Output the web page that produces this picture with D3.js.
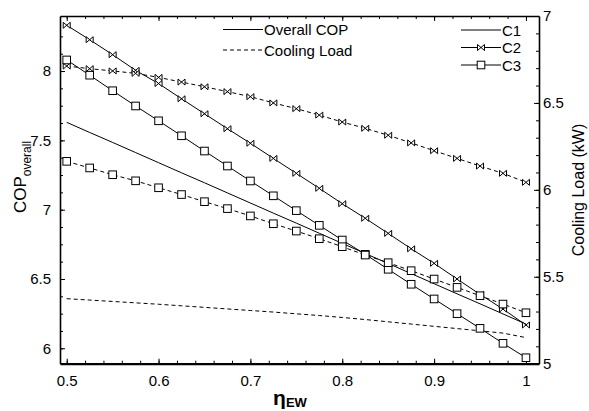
<!DOCTYPE html>
<html lang="en">
<head>
<meta charset="UTF-8">
<title>COP overall vs eta EW</title>
<script src="https://cdn.jsdelivr.net/npm/d3@7/dist/d3.min.js"></script>
<style>
    body { margin: 0; background: #fff; }
    svg { font-family: "Liberation Sans", Arial, sans-serif; }
    .axis text { font-size: 15px; fill: #000; }
    .axis path, .axis line { stroke: #000; }
    .legend text { font-size: 15px; }
</style>
</head>
<body>
<div id="chart"></div>
<script>
    // efficiency values (x)
    const eta = [0.5, 0.525, 0.55, 0.575, 0.6, 0.625, 0.65, 0.675, 0.7, 0.725, 0.75,
                 0.775, 0.8, 0.825, 0.85, 0.875, 0.9, 0.925, 0.95, 0.975, 1.0];

    // overall COP (left axis)
    const copC1 = [7.630, 7.557, 7.485, 7.412, 7.339, 7.266, 7.194, 7.121, 7.048, 6.975, 6.903,
                   6.830, 6.757, 6.684, 6.612, 6.539, 6.466, 6.393, 6.321, 6.248, 6.175];
    const copC2 = [8.330, 8.226, 8.118, 8.005, 7.910, 7.800, 7.692, 7.584, 7.479, 7.370, 7.262,
                   7.154, 7.043, 6.938, 6.829, 6.718, 6.613, 6.500, 6.389, 6.283, 6.168];
    const copC3 = [8.080, 7.970, 7.858, 7.748, 7.641, 7.533, 7.423, 7.315, 7.207, 7.100, 6.993,
                   6.887, 6.781, 6.678, 6.570, 6.462, 6.356, 6.250, 6.144, 6.036, 5.932];

    // cooling load in kW (right axis)
    const loadC1 = [5.374, 5.366, 5.358, 5.350, 5.342, 5.333, 5.324, 5.315, 5.306, 5.297, 5.287,
                    5.277, 5.266, 5.254, 5.241, 5.228, 5.215, 5.202, 5.189, 5.176, 5.150];
    const loadC2 = [6.712, 6.697, 6.684, 6.670, 6.647, 6.620, 6.593, 6.565, 6.536, 6.500, 6.467,
                    6.430, 6.390, 6.354, 6.314, 6.270, 6.225, 6.181, 6.137, 6.095, 6.043];
    const loadC3 = [6.164, 6.126, 6.087, 6.052, 6.012, 5.973, 5.932, 5.892, 5.850, 5.805, 5.763,
                    5.719, 5.673, 5.625, 5.581, 5.535, 5.487, 5.439, 5.391, 5.343, 5.293];

    const xTicks = [0.5, 0.6, 0.7, 0.8, 0.9, 1];
    const leftTicks = [6, 6.5, 7, 7.5, 8];
    const rightTicks = [5, 5.5, 6, 6.5, 7];

    const width = 589, height = 411;
    const mLeft = 60, mRight = 539, mTop = 16, mBottom = 363.7;

    const svg = d3.select("#chart").append("svg")
        .attr("width", width)
        .attr("height", height);

    const x = d3.scaleLinear().domain([0.4927, 1.0142]).range([mLeft, mRight]);
    const yL = d3.scaleLinear().domain([5.889, 8.397]).range([mBottom, mTop]);
    const yR = d3.scaleLinear().domain([5, 7]).range([mBottom, mTop]);

    const xMinor = d3.range(0.5, 1.0001, 0.02);
    const lMinor = d3.range(6, 8.3, 0.125);
    const rMinor = d3.range(5, 7.001, 0.1);

    // minor ticks
    svg.append("g").attr("class", "axis")
        .attr("transform", `translate(0,${mBottom})`)
        .call(d3.axisBottom(x).tickValues(xMinor).tickFormat("").tickSizeInner(-3).tickSizeOuter(0))
        .select(".domain").remove();
    svg.append("g").attr("class", "axis")
        .attr("transform", `translate(0,${mTop})`)
        .call(d3.axisTop(x).tickValues(xMinor).tickFormat("").tickSizeInner(-3).tickSizeOuter(0))
        .select(".domain").remove();
    svg.append("g").attr("class", "axis")
        .attr("transform", `translate(${mLeft},0)`)
        .call(d3.axisLeft(yL).tickValues(lMinor).tickFormat("").tickSizeInner(-3).tickSizeOuter(0))
        .select(".domain").remove();
    svg.append("g").attr("class", "axis")
        .attr("transform", `translate(${mRight},0)`)
        .call(d3.axisRight(yR).tickValues(rMinor).tickFormat("").tickSizeInner(-3).tickSizeOuter(0))
        .select(".domain").remove();

    // major axes
    const fmt = d => d3.format("~g")(d);
    const gx = svg.append("g").attr("class", "axis")
        .attr("transform", `translate(0,${mBottom})`)
        .call(d3.axisBottom(x).tickValues(xTicks).tickFormat(fmt).tickSizeInner(-5).tickSizeOuter(0).tickPadding(12));
    gx.select(".domain").attr("stroke-width", 2.2);

    svg.append("g").attr("class", "axis")
        .attr("transform", `translate(0,${mTop})`)
        .call(d3.axisTop(x).tickValues(xTicks).tickFormat("").tickSizeInner(-5).tickSizeOuter(0))
        .select(".domain").attr("stroke-width", 1.3);

    svg.append("g").attr("class", "axis")
        .attr("transform", `translate(${mLeft},0)`)
        .call(d3.axisLeft(yL).tickValues(leftTicks).tickFormat(fmt).tickSizeInner(-5).tickSizeOuter(0).tickPadding(9))
        .select(".domain").attr("stroke-width", 1.6);

    svg.append("g").attr("class", "axis")
        .attr("transform", `translate(${mRight},0)`)
        .call(d3.axisRight(yR).tickValues(rightTicks).tickFormat(fmt).tickSizeInner(-5).tickSizeOuter(0).tickPadding(4))
        .select(".domain").attr("stroke-width", 1.6);

    // lines
    const lineL = d3.line().x((d, i) => x(eta[i])).y(d => yL(d));
    const lineR = d3.line().x((d, i) => x(eta[i])).y(d => yR(d));

    const series = [
        { v: copC1, line: lineL, dash: null, marker: null },
        { v: loadC1, line: lineR, dash: "4,3", marker: null },
        { v: copC2, line: lineL, dash: null, marker: "bow" },
        { v: loadC2, line: lineR, dash: "4,3", marker: "bow" },
        { v: copC3, line: lineL, dash: null, marker: "sq" },
        { v: loadC3, line: lineR, dash: "4,3", marker: "sq" }
    ];

    const bowPath = "M-3.5,-3L3.5,3L3.5,-3L-3.5,3Z";

    function drawMarker(g, type, cx, cy) {
        if (type === "bow") {
            g.append("path").attr("d", bowPath)
                .attr("transform", `translate(${cx},${cy})`)
                .attr("fill", "#fff").attr("stroke", "#000").attr("stroke-width", 1);
        } else if (type === "sq") {
            g.append("rect").attr("x", cx - 3.8).attr("y", cy - 3.8)
                .attr("width", 7.6).attr("height", 7.6)
                .attr("fill", "#fff").attr("stroke", "#000").attr("stroke-width", 1);
        }
    }

    series.forEach(s => {
        svg.append("path")
            .attr("d", s.line(s.v))
            .attr("fill", "none")
            .attr("stroke", "#000")
            .attr("stroke-width", 1)
            .attr("stroke-dasharray", s.dash);
    });
    series.forEach(s => {
        if (!s.marker) return;
        const g = svg.append("g");
        const yS = s.line === lineL ? yL : yR;
        s.v.forEach((d, i) => drawMarker(g, s.marker, x(eta[i]), yS(d)));
    });

    // legend 1: line styles
    const leg1 = svg.append("g").attr("class", "legend");
    leg1.append("line").attr("x1", 223).attr("x2", 263).attr("y1", 29.5).attr("y2", 29.5)
        .attr("stroke", "#000");
    leg1.append("text").attr("x", 264).attr("y", 35).text("Overall COP");
    leg1.append("line").attr("x1", 223).attr("x2", 263).attr("y1", 50).attr("y2", 50)
        .attr("stroke", "#000").attr("stroke-dasharray", "4,3");
    leg1.append("text").attr("x", 264).attr("y", 55.5).text("Cooling Load");

    // legend 2: cases
    const cases = ["C1", "C2", "C3"];
    const caseMarker = [null, "bow", "sq"];
    const leg2 = svg.append("g").attr("class", "legend");
    cases.forEach((c, i) => {
        const ly = 30 + i * 17.5;
        leg2.append("line").attr("x1", 461).attr("x2", 501).attr("y1", ly).attr("y2", ly)
            .attr("stroke", "#000");
        drawMarker(leg2, caseMarker[i], 481, ly);
        leg2.append("text").attr("x", 502).attr("y", ly + 5.5).text(c);
    });

    // axis titles
    const yt = svg.append("text")
        .attr("transform", "translate(25.5,177) rotate(-90)")
        .attr("text-anchor", "middle")
        .style("font-size", "17px");
    yt.append("tspan").text("COP");
    yt.append("tspan").attr("dy", 5).style("font-size", "12px").text("overall");

    svg.append("text")
        .attr("transform", "translate(584,190) rotate(-90)")
        .attr("text-anchor", "middle")
        .style("font-size", "16px")
        .text("Cooling Load (kW)");

    const xt = svg.append("text")
        .attr("x", 290).attr("y", 405)
        .attr("text-anchor", "middle")
        .style("font-weight", "bold");
    xt.append("tspan").style("font-size", "21px").text("η");
    xt.append("tspan").attr("dy", 2).style("font-size", "13px").text("EW");
</script>
</body>
</html>
